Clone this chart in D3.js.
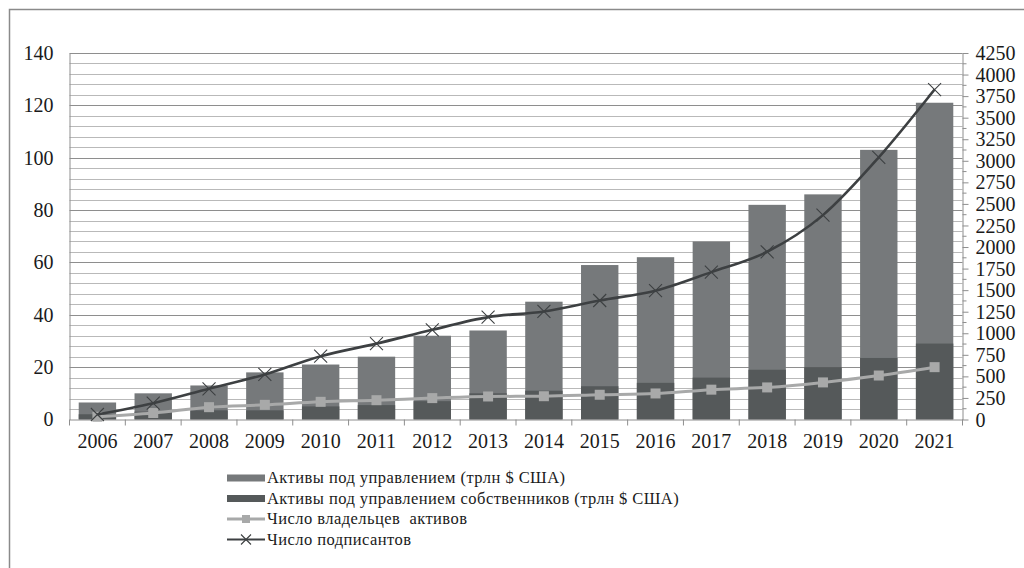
<!DOCTYPE html>
<html>
<head>
<meta charset="utf-8">
<script src="https://cdn.jsdelivr.net/npm/d3@7"></script>
<style>
  html, body { margin: 0; padding: 0; background: #fff; }
  svg { display: block; }
  svg text { font-family: "Liberation Serif", "Times New Roman", serif !important; fill: #1a1a1a; }
</style>
</head>
<body>
<svg id="chart" width="1024" height="568"></svg>
<script>
// Годы
const years = ["2006","2007","2008","2009","2010","2011","2012","2013",
               "2014","2015","2016","2017","2018","2019","2020","2021"];
// Активы под управлением, трлн $ США
const aum = [6.5, 10, 13, 18, 21, 24, 32, 34, 45, 59, 62, 68, 82, 86, 103, 121];
// Активы под управлением собственников, трлн $ США
const ownerAum = [2, 3, 3.5, 3.5, 5, 5.5, 7, 10, 11, 12.7, 14, 16, 19, 20, 23.5, 29];
// Число владельцев активов
const owners = [32, 75, 143, 170, 205, 224, 248, 267, 270, 287, 302, 346, 372, 430, 510, 607];
// Число подписантов
const signatories = [58, 189, 356, 522, 734, 880, 1040, 1187, 1253, 1380, 1494, 1709, 1945, 2370, 3040, 3826];

const leftTicks = [0, 20, 40, 60, 80, 100, 120, 140];
const rightTicks = d3.range(0, 4251, 250);

const legendLabels = [
  "Активы под управлением (трлн $ США)",
  "Активы под управлением собственников (трлн $ США)",
  "Число владельцев  активов",
  "Число подписантов"
];

const colTotal = "#76797b";
const colOwn = "#55595a";
const colOwners = "#a8a9a9";
const colSign = "#3d4042";
const FONT = "Liberation Serif";

const svg = d3.select("#chart");

// outer frame
svg.append("rect").attr("x", 9.5).attr("y", 9.5).attr("width", 1030).attr("height", 600)
  .attr("fill", "none").attr("stroke", "#8a8a8a").attr("stroke-width", 1.5);

const L = 69.5, R = 962.5, T = 53, B = 419.5;

const x = d3.scaleBand().domain(years).range([L, R]).paddingInner(0.33).paddingOuter(0.165);
const xb = d3.scaleBand().domain(years).range([L, R]);
const yL = d3.scaleLinear().domain([0, 140]).range([B, T]);
const yR = d3.scaleLinear().domain([0, 4250]).range([B, T]);

// gridlines: minor every 4, major every 20
const grid = svg.append("g");
grid.selectAll("line.minor").data(d3.range(4, 141, 4).filter(v => v % 20 !== 0))
  .join("line").attr("class", "minor")
  .attr("x1", L).attr("x2", R)
  .attr("y1", d => Math.round(yL(d)) + 0.5).attr("y2", d => Math.round(yL(d)) + 0.5)
  .attr("stroke", "#b9b9b9").attr("stroke-width", 1);
grid.selectAll("line.major").data(leftTicks.filter(v => v > 0))
  .join("line").attr("class", "major")
  .attr("x1", L).attr("x2", R)
  .attr("y1", d => Math.round(yL(d)) + 0.5).attr("y2", d => Math.round(yL(d)) + 0.5)
  .attr("stroke", "#8e8e8e").attr("stroke-width", 1);

// bars
svg.append("g").selectAll("rect").data(years).join("rect")
  .attr("x", d => x(d)).attr("width", x.bandwidth())
  .attr("y", (d, i) => yL(aum[i])).attr("height", (d, i) => yL(0) - yL(aum[i]))
  .attr("fill", colTotal);
svg.append("g").selectAll("rect").data(years).join("rect")
  .attr("x", d => x(d)).attr("width", x.bandwidth())
  .attr("y", (d, i) => yL(ownerAum[i])).attr("height", (d, i) => yL(0) - yL(ownerAum[i]))
  .attr("fill", colOwn);

// axes
const axL = d3.axisLeft(yL).tickValues(leftTicks).tickSize(0).tickPadding(16);
const gL = svg.append("g").attr("transform", `translate(${L},0)`).call(axL)
  .attr("font-family", FONT);
gL.select(".domain").attr("stroke", "#8e8e8e");
gL.selectAll("text").attr("font-size", 20);

const axR = d3.axisRight(yR).tickValues(rightTicks).tickFormat(d3.format("d"))
  .tickSize(6).tickPadding(7).tickSizeOuter(0);
const gR = svg.append("g").attr("transform", `translate(${R},0)`).call(axR)
  .attr("font-family", FONT);
gR.select(".domain").attr("stroke", "#8e8e8e");
gR.selectAll(".tick line").attr("stroke", "#8e8e8e");
gR.selectAll("text").attr("font-size", 20).attr("dy", "0.33em");
// minor ticks on the right axis
svg.append("g").selectAll("line").data(d3.range(125, 4250, 250)).join("line")
  .attr("x1", R).attr("x2", R + 4)
  .attr("y1", d => yR(d)).attr("y2", d => yR(d))
  .attr("stroke", "#8e8e8e");

const axB = d3.axisBottom(xb).tickSize(0).tickPadding(14);
const gB = svg.append("g").attr("transform", `translate(0,${B})`).call(axB)
  .attr("font-family", FONT);
gB.select(".domain").attr("stroke", "#8e8e8e");
gB.selectAll("text").attr("font-size", 20);
// category separators
svg.append("g").selectAll("line").data(years.concat(["end"])).join("line")
  .attr("x1", (d, i) => L + i * xb.step()).attr("x2", (d, i) => L + i * xb.step())
  .attr("y1", B).attr("y2", B + 6).attr("stroke", "#8e8e8e");

const cx = d => x(d) + x.bandwidth() / 2;

// asset owners line
const lineOwners = d3.line().x((d, i) => cx(years[i])).y(d => yR(d)).curve(d3.curveMonotoneX);
svg.append("path").datum(owners).attr("d", lineOwners)
  .attr("fill", "none").attr("stroke", colOwners).attr("stroke-width", 3);
svg.append("g").selectAll("rect").data(owners).join("rect")
  .attr("x", (d, i) => cx(years[i]) - 5).attr("y", d => yR(d) - 5)
  .attr("width", 10).attr("height", 10).attr("fill", colOwners);

// signatories line
const lineSign = d3.line().x((d, i) => cx(years[i])).y(d => yR(d)).curve(d3.curveMonotoneX);
svg.append("path").datum(signatories).attr("d", lineSign)
  .attr("fill", "none").attr("stroke", colSign).attr("stroke-width", 2.6);
svg.append("g").selectAll("path").data(signatories).join("path")
  .attr("d", (d, i) => {
    const px = cx(years[i]), py = yR(d), s = 6.5;
    return `M${px - s},${py - s}L${px + s},${py + s}M${px - s},${py + s}L${px + s},${py - s}`;
  })
  .attr("stroke", colSign).attr("stroke-width", 1.1).attr("fill", "none");

// legend
const lg = svg.append("g").attr("font-family", FONT);
const rowY = [478, 498.5, 519, 539.5];
const lx0 = 227, lx1 = 265;
lg.append("rect").attr("x", lx0).attr("y", rowY[0] - 3.5).attr("width", lx1 - lx0).attr("height", 7).attr("fill", colTotal);
lg.append("rect").attr("x", lx0).attr("y", rowY[1] - 3.5).attr("width", lx1 - lx0).attr("height", 7).attr("fill", colOwn);
lg.append("line").attr("x1", lx0).attr("x2", lx1).attr("y1", rowY[2]).attr("y2", rowY[2])
  .attr("stroke", colOwners).attr("stroke-width", 3);
lg.append("rect").attr("x", (lx0 + lx1) / 2 - 4).attr("y", rowY[2] - 4).attr("width", 8).attr("height", 8).attr("fill", colOwners);
lg.append("line").attr("x1", lx0).attr("x2", lx1).attr("y1", rowY[3]).attr("y2", rowY[3])
  .attr("stroke", colSign).attr("stroke-width", 2);
{
  const px = (lx0 + lx1) / 2, py = rowY[3], s = 5;
  lg.append("path").attr("d", `M${px - s},${py - s}L${px + s},${py + s}M${px - s},${py + s}L${px + s},${py - s}`)
    .attr("stroke", colSign).attr("stroke-width", 1.1);
}
lg.selectAll("text").data(legendLabels).join("text")
  .attr("x", 267).attr("y", (d, i) => rowY[i]).attr("dy", "0.33em")
  .attr("font-size", 16.5).attr("letter-spacing", 0.45).attr("xml:space", "preserve")
  .text(d => d);
</script>
</body>
</html>
